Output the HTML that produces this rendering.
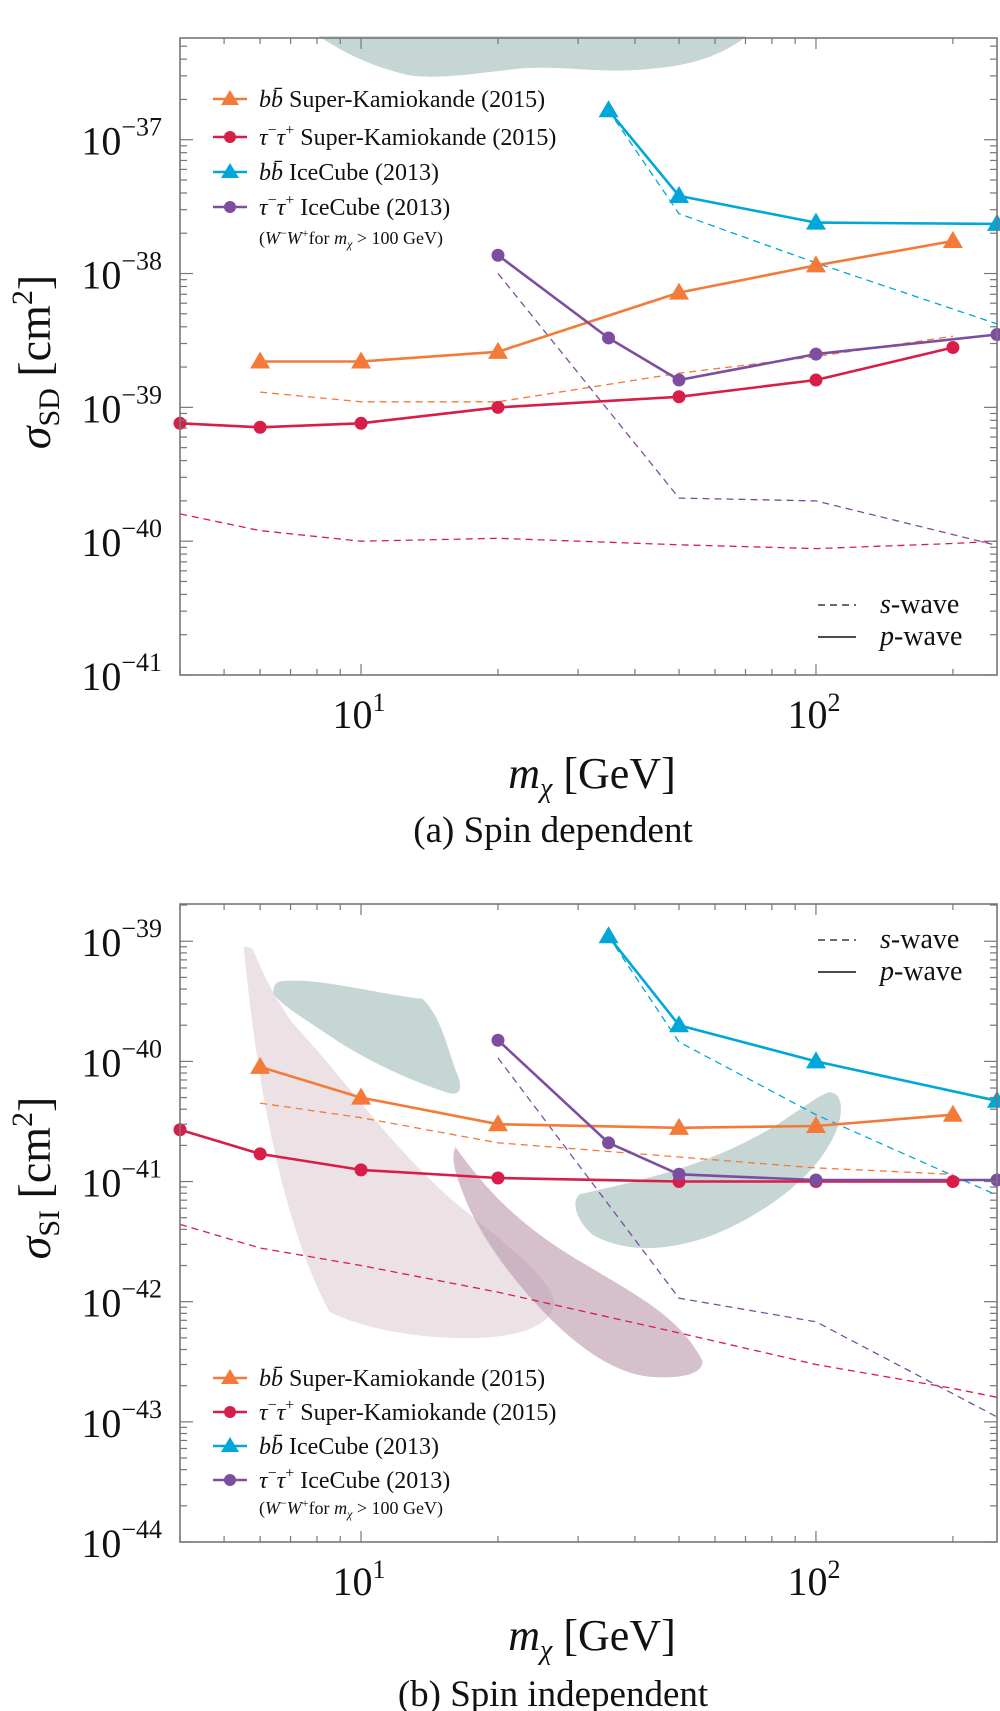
<!DOCTYPE html>
<html><head><meta charset="utf-8"><style>
body{margin:0;background:#fff}
svg{display:block}
text{font-family:"Liberation Serif",serif;fill:#111}
</style></head><body>
<svg id="fig" width="1000" height="1711" viewBox="0 0 1000 1711" xmlns="http://www.w3.org/2000/svg">
<g id="blobs" transform="scale(1.0977)">
  <path fill="#c5d6d5" d="M290,33 C310,45 330,58 370,68 C400,74 450,64 480,62 C520,60 550,68 600,62 C640,58 665,45 680,33 Z"/>
  <path fill="#ece2e6" d="M222,862 L230,864 C245,900 255,915 265,930 C320,990 360,1050 420,1100 C470,1140 500,1165 505,1185 C505,1205 480,1218 430,1219 C380,1220 330,1210 300,1195 C260,1120 235,1000 222,862 Z"/>
  <path fill="#b996aa" fill-opacity="0.6" d="M415,1045 C440,1080 470,1115 530,1150 C580,1180 620,1200 640,1240 C640,1255 610,1256 590,1254 C560,1250 530,1230 500,1200 C470,1170 440,1130 425,1095 C415,1070 410,1055 415,1045 Z"/>
  <path fill="#c5d6d5" d="M255,894 C290,890 340,905 385,910 C400,925 405,945 415,975 C422,990 420,998 410,996 C390,990 350,975 310,950 C280,930 255,915 249,905 C249,898 251,895 255,894 Z"/>
  <path fill="#c5d6d5" d="M528,1088 C560,1080 620,1070 680,1040 C720,1020 740,1000 755,995 C765,995 768,1005 765,1020 C755,1060 710,1100 650,1125 C610,1140 570,1142 540,1125 C525,1112 520,1095 528,1088 Z"/>
</g>
<g id="plots"></g>
</svg>
<script>
// ---------- data (mass in GeV, cross section in cm^2) ----------
const sdBbSKMass=[6,10,20,50,100,200];
const sdBbSKSolid=[2.2e-39,2.2e-39,2.6e-39,7.2e-39,1.15e-38,1.75e-38];
const sdBbSKDash=[1.3e-39,1.1e-39,1.1e-39,1.8e-39,2.4e-39,3.4e-39];
const sdTauSKMass=[4,6,10,20,50,100,200];
const sdTauSKSolid=[7.6e-40,7.1e-40,7.6e-40,1.0e-39,1.2e-39,1.6e-39,2.8e-39];
const sdTauSKDashMass=[4,6,10,20,50,100,200,250];
const sdTauSKDash=[1.6e-40,1.2e-40,1.0e-40,1.05e-40,9.4e-41,8.8e-41,9.6e-41,1.0e-40];
const sdBbICMass=[35,50,100,250];
const sdBbICSolid=[1.66e-37,3.8e-38,2.4e-38,2.35e-38];
const sdBbICDash=[1.66e-37,2.8e-38,1.2e-38,4.2e-39];
const sdTauICMass=[20,35,50,100,250];
const sdTauICSolid=[1.37e-38,3.3e-39,1.6e-39,2.5e-39,3.5e-39];
const sdTauICDashMass=[20,50,100,250];
const sdTauICDash=[1.0e-38,2.1e-40,2.0e-40,9.3e-41];

const siBbSKMass=[6,10,20,50,100,200];
const siBbSKSolid=[9.0e-41,5.0e-41,3.0e-41,2.8e-41,2.9e-41,3.6e-41];
const siBbSKDash=[4.5e-41,3.4e-41,2.1e-41,1.6e-41,1.3e-41,1.15e-41];
const siTauSKMass=[4,6,10,20,50,100,200];
const siTauSKSolid=[2.7e-41,1.7e-41,1.25e-41,1.07e-41,1.0e-41,1.0e-41,1.0e-41];
const siTauSKDashMass=[4,6,10,20,50,100,200,250];
const siTauSKDash=[4.4e-42,2.8e-42,2.0e-42,1.2e-42,5.5e-43,3.0e-43,1.9e-43,1.6e-43];
const siBbICMass=[35,50,100,250];
const siBbICSolid=[1.1e-39,2.0e-40,1.0e-40,4.7e-41];
const siBbICDash=[1.1e-39,1.45e-40,3.6e-41,7.7e-42];
const siTauICMass=[20,35,50,100,250];
const siTauICSolid=[1.5e-40,2.1e-41,1.15e-41,1.03e-41,1.03e-41];
const siTauICDashMass=[20,50,100,250];
const siTauICDash=[1.07e-40,1.07e-42,6.8e-43,1.1e-43];

const xTickLabels=["1","2"];
const sdYTickExp=[-41,-40,-39,-38,-37];
const siYTickExp=[-44,-43,-42,-41,-40,-39];

const C={or:"#f47a3a",red:"#d81e48",cy:"#00a7d8",pu:"#7d4ea0"};
const NS="http://www.w3.org/2000/svg";
const root=document.getElementById('plots');
function el(tag,attrs,parent){const e=document.createElementNS(NS,tag);for(const k in attrs)e.setAttribute(k,attrs[k]);(parent||root).appendChild(e);return e;}

function makePanel(p){
  const X0=180,X1=997,lx0=Math.log10(4),lx1=Math.log10(250);
  const xs=v=>X0+(Math.log10(v)-lx0)/(lx1-lx0)*(X1-X0);
  const ys=v=>p.bot-(Math.log10(v)-p.ly0)/(p.ly1-p.ly0)*(p.bot-p.top);
  const g=el('g',{});
  
  
  function line(mass,vals,color,dashed,name){
    const d=mass.map((m,i)=>(i?'L':'M')+xs(m).toFixed(1)+','+ys(vals[i]).toFixed(1)).join(' ');
    const e=el('path',{d:d,fill:'none',stroke:color,'stroke-width':dashed?1.3:2.6,'stroke-dasharray':dashed?'7 5':'none','stroke-linejoin':'round'},g);
    
    
  }
  function markers(mass,vals,color,tri,name){
    mass.forEach((m,i)=>{
      const x=xs(m),y=ys(vals[i]);let e;
      if(tri)e=el('path',{d:`M${x},${y-10} L${x+10},${y+7} L${x-10},${y+7} Z`,fill:color},g);
      else e=el('circle',{cx:x,cy:y,r:6.5,fill:color},g);
      
      
    });
  }
  const S=p.s;
  line(S.bbSKMass,S.bbSKDash,C.or,true,'bb-superk-swave');
  line(S.tauSKDM,S.tauSKDash,C.red,true,'tautau-superk-swave');
  line(S.bbICMass,S.bbICDash,C.cy,true,'bb-icecube-swave');
  line(S.tauICDM,S.tauICDash,C.pu,true,'tautau-icecube-swave');
  line(S.bbSKMass,S.bbSKSolid,C.or,false,'bb-superk-pwave');
  line(S.tauSKMass,S.tauSKSolid,C.red,false,'tautau-superk-pwave');
  line(S.bbICMass,S.bbICSolid,C.cy,false,'bb-icecube-pwave');
  line(S.tauICMass,S.tauICSolid,C.pu,false,'tautau-icecube-pwave');
  markers(S.bbSKMass,S.bbSKSolid,C.or,true,'bb-superk');
  markers(S.tauSKMass,S.tauSKSolid,C.red,false,'tautau-superk');
  markers(S.bbICMass,S.bbICSolid,C.cy,true,'bb-icecube');
  markers(S.tauICMass,S.tauICSolid,C.pu,false,'tautau-icecube');
  const fr=el('rect',{x:X0,y:p.top,width:X1-X0,height:p.bot-p.top,fill:'none',stroke:'#777','stroke-width':1.6},g);
  
  
  for(let dec=0;dec<=2;dec++)for(let k=1;k<=9;k++){
    const v=k*Math.pow(10,dec);if(v<4||v>250)continue;
    const x=xs(v),L=k==1?11:6;
    el('line',{x1:x,y1:p.bot,x2:x,y2:p.bot-L,stroke:'#777','stroke-width':1.2},g);
    el('line',{x1:x,y1:p.top,x2:x,y2:p.top+L,stroke:'#777','stroke-width':1.2},g);
  }
  xTickLabels.forEach((lab)=>{
    const x=xs(Math.pow(10,+lab));
    const t=el('text',{x:x-2,y:p.xlab,'font-size':40,'text-anchor':'middle'},g);
    
    
    t.innerHTML='10<tspan font-size="26" dy="-17">'+lab+'</tspan>';
  });
  for(let e=Math.floor(p.ly0);e<=Math.ceil(p.ly1);e++)for(let k=1;k<=9;k++){
    const lv=e+Math.log10(k);if(lv<p.ly0-1e-6||lv>p.ly1)continue;
    const y=ys(Math.pow(10,lv)),L=k==1?13:7;
    el('line',{x1:X0,y1:y,x2:X0+L,y2:y,stroke:'#777','stroke-width':1.2},g);
    el('line',{x1:X1,y1:y,x2:X1-L,y2:y,stroke:'#777','stroke-width':1.2},g);
  }
  p.yt.forEach(ex=>{
    const y=ys(Math.pow(10,ex));
    const t=el('text',{x:162,y:y+15,'font-size':40,'text-anchor':'end'},g);
    
    
    t.innerHTML='10<tspan font-size="26" dy="-19">−'+(-ex)+'</tspan>';
  });
  const xt=el('text',{x:592,y:p.xtitle,'font-size':44,'text-anchor':'middle'},g);
  
  
  xt.innerHTML='<tspan font-style="italic">m</tspan><tspan font-size="28" dy="9" font-style="italic">χ</tspan><tspan dy="-9"> [GeV]</tspan>';
  const yt=el('text',{x:0,y:0,'font-size':46,'text-anchor':'middle',transform:`translate(50,${p.ymid}) rotate(-90)`},g);
  
  
  yt.innerHTML='<tspan font-style="italic">σ</tspan><tspan font-size="30" dy="9">'+p.sub+'</tspan><tspan dy="-9"> [cm</tspan><tspan font-size="30" dy="-18">2</tspan><tspan dy="18">]</tspan>';
  const cap=el('text',{x:553,y:p.cap,'font-size':37,'text-anchor':'middle'},g);
  
  
  cap.textContent=p.caption;
  const lg=el('g',{},g);
  
  
  const items=[[C.or,true,'<tspan font-style="italic">b</tspan><tspan font-style="italic">b̄</tspan> Super-Kamiokande (2015)'],
   [C.red,false,'<tspan font-style="italic">τ</tspan><tspan font-size="16" dy="-10">−</tspan><tspan dy="10" font-style="italic">τ</tspan><tspan font-size="16" dy="-10">+</tspan><tspan dy="10"> Super-Kamiokande (2015)</tspan>'],
   [C.cy,true,'<tspan font-style="italic">b</tspan><tspan font-style="italic">b̄</tspan> IceCube (2013)'],
   [C.pu,false,'<tspan font-style="italic">τ</tspan><tspan font-size="16" dy="-10">−</tspan><tspan dy="10" font-style="italic">τ</tspan><tspan font-size="16" dy="-10">+</tspan><tspan dy="10"> IceCube (2013)</tspan>']];
  items.forEach((it,i)=>{
    const y=p.leg[i];
    const ent=el('g',{},lg);
    
    
    el('line',{x1:213,y1:y,x2:247,y2:y,stroke:it[0],'stroke-width':2.6},ent);
    if(it[1])el('path',{d:`M230,${y-9} L239,${y+6} L221,${y+6} Z`,fill:it[0]},ent);
    else el('circle',{cx:230,cy:y,r:6,fill:it[0]},ent);
    const t=el('text',{x:259,y:y+8,'font-size':24},ent);
    t.innerHTML=it[2];
  });
  const note=el('text',{x:259,y:p.leg[4]+6,'font-size':18},lg);
  
  
  note.innerHTML='(<tspan font-style="italic">W</tspan><tspan font-size="12" dy="-7">−</tspan><tspan dy="7" font-style="italic">W</tspan><tspan font-size="12" dy="-7">+</tspan><tspan dy="7">for </tspan><tspan font-style="italic">m</tspan><tspan font-size="12" dy="4" font-style="italic">χ</tspan><tspan dy="-4"> &gt; 100 GeV)</tspan>';
  const wl=el('g',{},g);
  
  
  el('line',{x1:818,y1:p.wave[0],x2:856,y2:p.wave[0],stroke:'#111','stroke-width':1.3,'stroke-dasharray':'7 5'},wl);
  el('line',{x1:818,y1:p.wave[1],x2:856,y2:p.wave[1],stroke:'#111','stroke-width':1.6},wl);
  el('text',{x:880,y:p.wave[0]+8,'font-size':28},wl).innerHTML='<tspan font-style="italic">s</tspan>-wave';
  el('text',{x:880,y:p.wave[1]+8,'font-size':28},wl).innerHTML='<tspan font-style="italic">p</tspan>-wave';
}

makePanel({name:'spin-dependent',top:38,bot:675,ly0:-41,ly1:-36.24,xlab:728,xtitle:788,cap:842,ymid:362,sub:'SD',
  caption:'(a) Spin dependent',yt:sdYTickExp,leg:[99,137,172,207,238],wave:[605,637],
  s:{bbSKMass:sdBbSKMass,bbSKSolid:sdBbSKSolid,bbSKDash:sdBbSKDash,tauSKMass:sdTauSKMass,tauSKSolid:sdTauSKSolid,
     tauSKDM:sdTauSKDashMass,tauSKDash:sdTauSKDash,bbICMass:sdBbICMass,bbICSolid:sdBbICSolid,bbICDash:sdBbICDash,
     tauICMass:sdTauICMass,tauICSolid:sdTauICSolid,tauICDM:sdTauICDashMass,tauICDash:sdTauICDash}});
makePanel({name:'spin-independent',top:904,bot:1542,ly0:-44,ly1:-38.69,xlab:1595,xtitle:1650,cap:1706,ymid:1178,sub:'SI',
  caption:'(b) Spin independent',yt:siYTickExp,leg:[1378,1412,1446,1480,1508],wave:[940,972],
  s:{bbSKMass:siBbSKMass,bbSKSolid:siBbSKSolid,bbSKDash:siBbSKDash,tauSKMass:siTauSKMass,tauSKSolid:siTauSKSolid,
     tauSKDM:siTauSKDashMass,tauSKDash:siTauSKDash,bbICMass:siBbICMass,bbICSolid:siBbICSolid,bbICDash:siBbICDash,
     tauICMass:siTauICMass,tauICSolid:siTauICSolid,tauICDM:siTauICDashMass,tauICDash:siTauICDash}});
</script>
</body></html>
